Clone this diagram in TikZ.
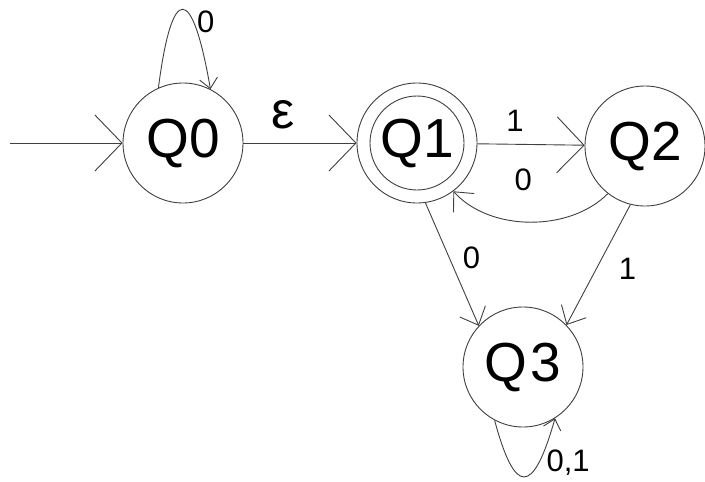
\documentclass[tikz,border=0pt]{standalone}
\usepackage{fontspec}
\setmainfont{Liberation Sans}
\usetikzlibrary{arrows.meta}
\begin{document}
\begin{tikzpicture}[x=1pt,y=-1pt,
  lin/.style={draw=black!75, line width=0.9pt},
  state/.style={circle, lin, minimum size=120pt, inner sep=0pt, font=\fontsize{55}{55}\selectfont},
  lbl/.style={inner sep=0pt, font=\fontsize{31}{31}\selectfont},
  bigarr/.style={lin, -{Straight Barb[length=27pt,width=56pt]}},
  medarr/.style={lin, -{Straight Barb[length=15pt,width=28pt]}},
  smallarr/.style={lin, -{Straight Barb[length=10pt,width=18pt]}}]
\useasboundingbox (0,0) rectangle (705,482);
\fill[white] (0,0) rectangle (705,482);

\node[state] (Q0) at (183,143) {Q0};
\node[state] (Q1) at (417,143) {Q1};
\node[state] (Q2) at (645,146) {Q2};
\node[state] (Q3) at (523,367) {Q\kern3pt3};
\draw[lin] (Q1.center) circle [radius=47pt];

\coordinate (init) at (10,143);
\draw[bigarr] (init) -- (Q0);
\draw[bigarr] (Q0) -- node[lbl, pos=0.35, above=14pt, font=\fontsize{52}{52}\selectfont] {ε} (Q1);
\draw[bigarr] (Q1) -- node[lbl, pos=0.35, above=12pt] {1} (Q2);
\draw[medarr] (Q2.232) .. controls (570,232) and (490,232) .. node[lbl, pos=0.5, above=31pt, xshift=-7pt] {0} (Q1.307);
\draw[medarr] (Q1.-82) -- node[lbl, pos=0.45, anchor=west, xshift=13pt] {0} (Q3.137);
\draw[medarr] (Q2.-104) -- node[lbl, pos=0.53, anchor=west, xshift=22pt] {1} (Q3.44);
\draw[smallarr] (Q0.114) .. controls (172,-17) and (192,-17) .. node[lbl, pos=0.7, anchor=west, xshift=3pt] {0} (Q0.63);
\draw[smallarr] (Q3.-118) .. controls (515,496) and (533,496) .. node[lbl, pos=0.7, anchor=west, xshift=10pt, yshift=5pt] {0,1} (Q3.-58);
\end{tikzpicture}
\end{document}
